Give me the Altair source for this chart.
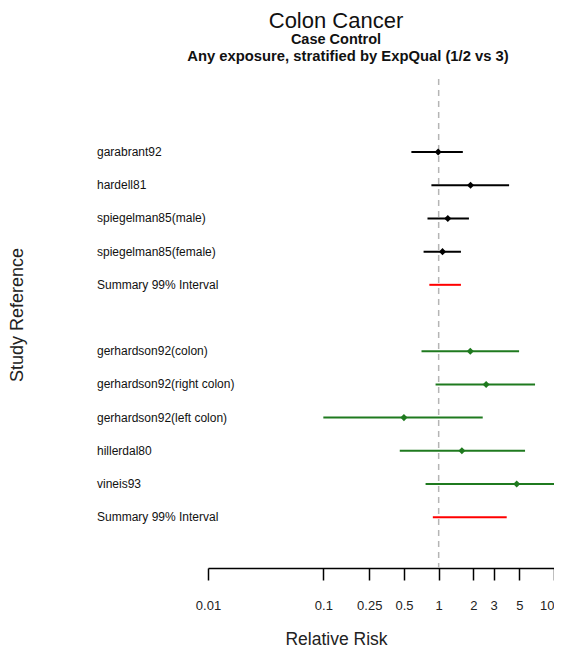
import altair as alt
import pandas as pd

# ---- data ----
labels = ["garabrant92", "hardell81", "spiegelman85(male)", "spiegelman85(female)",
          "Summary 99% Interval",
          "gerhardson92(colon)", "gerhardson92(right colon)", "gerhardson92(left colon)",
          "hillerdal80", "vineis93", "Summary 99% Interval"]
rows = [1, 2, 3, 4, 5, 7, 8, 9, 10, 11, 12]
est = [0.99, 1.89, 1.20, 1.08, None, 1.88, 2.58, 0.50, 1.59, 4.75, None]
lo = [0.58, 0.865, 0.80, 0.74, 0.83, 0.71, 0.94, 0.10, 0.46, 0.77, 0.89]
hi = [1.62, 4.08, 1.83, 1.56, 1.56, 4.98, 6.85, 2.41, 5.61, 10.0, 3.89]
kind = ["ExpQual 1/2"] * 4 + ["Summary"] + ["ExpQual 3"] * 5 + ["Summary"]
tick_values = [0.01, 0.1, 0.25, 0.5, 1, 2, 3, 5, 10]
title_lines = ["Colon Cancer", "Case Control", "Any exposure, stratified by ExpQual (1/2 vs 3)"]

df = pd.DataFrame({"label": labels, "row": rows, "est": est, "lo": lo, "hi": hi, "kind": kind})
pts = df.dropna(subset=["est"])

FONT = "Liberation Sans"
color = alt.Color("kind:N", scale=alt.Scale(domain=["ExpQual 1/2", "ExpQual 3", "Summary"],
                                           range=["#000000", "#1f7a1f", "#ff0000"]), legend=None)
xs = alt.Scale(type="log", domain=[0.01, 10], nice=False)
ys = alt.Scale(domain=[-1.2, 13.53], reverse=True, nice=False, zero=False)

base = alt.Chart(df)

ref = alt.Chart(pd.DataFrame({"v": [1]})).mark_rule(
    color="#b5b5b5", strokeDash=[6, 5], strokeWidth=1.5
).encode(
    x=alt.X("v:Q", scale=xs,
            axis=alt.Axis(values=tick_values, format="~g", grid=False, domainColor="black",
                          domainWidth=1.5, tickColor="black", tickWidth=1.5, tickSize=12,
                          labelFontSize=13, labelFont=FONT, labelColor="#222",
                          labelPadding=19, labelFlush=False,
                          labelAlign={"condition": {"test": "datum.value >= 10", "value": "right"},
                                      "value": "center"},
                          title="Relative Risk", titleFont=FONT, titleFontSize=17.5,
                          titleFontWeight="normal", titleColor="#222",
                          titleX=128, titleY=76, titleAlign="center",
                          titleBaseline="alphabetic"))
)

bars = base.mark_rule(strokeWidth=2).encode(
    x=alt.X("lo:Q", scale=xs),
    x2="hi:Q",
    y=alt.Y("row:Q", scale=ys, axis=None),
    color=color,
)

dots = alt.Chart(pts).mark_point(shape="diamond", filled=True, size=50, opacity=1).encode(
    x=alt.X("est:Q", scale=xs),
    y=alt.Y("row:Q", scale=ys),
    color=color,
)

txt = base.mark_text(align="left", baseline="middle", font=FONT, fontSize=12, color="#111").encode(
    x=alt.value(-111),
    y=alt.Y("row:Q", scale=ys),
    text="label:N",
)

t1 = alt.Chart(pd.DataFrame({"t": [title_lines[0]]})).mark_text(
    font=FONT, fontSize=22, align="center", baseline="alphabetic", color="#111"
).encode(x=alt.value(128), y=alt.value(-51), text="t:N")
t2 = alt.Chart(pd.DataFrame({"t": [title_lines[1]]})).mark_text(
    font=FONT, fontSize=14.5, fontWeight="bold", align="center", baseline="alphabetic", color="#111"
).encode(x=alt.value(128), y=alt.value(-35), text="t:N")
t3 = alt.Chart(pd.DataFrame({"t": [title_lines[2]]})).mark_text(
    font=FONT, fontSize=14.8, fontWeight="bold", align="center", baseline="alphabetic", color="#111"
).encode(x=alt.value(140), y=alt.value(-18), text="t:N")
ytitle = alt.Chart(pd.DataFrame({"t": ["Study Reference"]})).mark_text(
    font=FONT, fontSize=18, align="center", baseline="middle", angle=270, color="#222"
).encode(x=alt.value(-190), y=alt.value(236), text="t:N")

chart = alt.layer(ref, bars, dots, txt, t1, t2, t3, ytitle).properties(
    width=346, height=489,
    autosize=alt.AutoSizeParams(type="none"),
    padding={"left": 200, "top": 71, "right": 0, "bottom": 80},
).configure_view(stroke=None)

chart.save("out.html", embed_options={"renderer": "svg", "actions": False})
